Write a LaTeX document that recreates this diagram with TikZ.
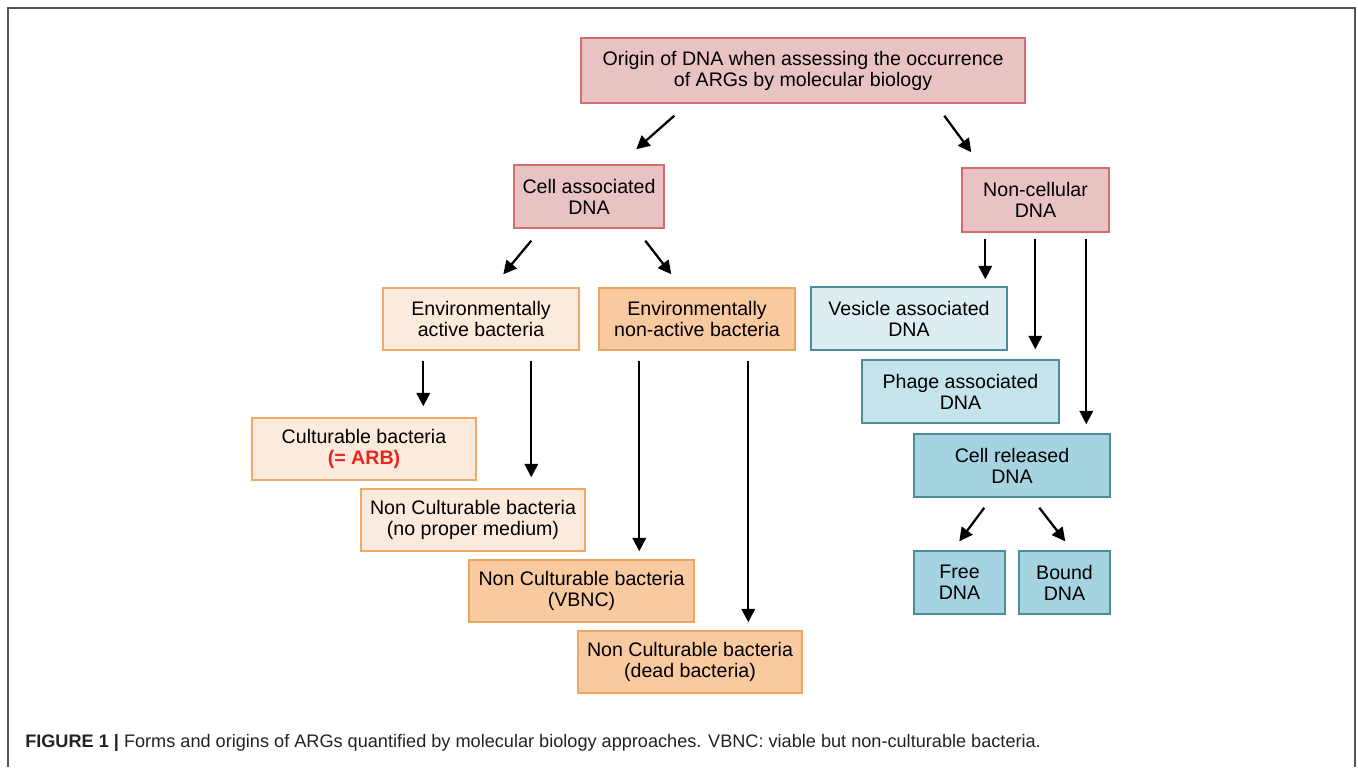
\documentclass[tikz,border=0pt]{standalone}
\usepackage{fontspec}
\setmainfont{Liberation Sans}
\usetikzlibrary{arrows.meta,calc}
\definecolor{pinkF}{HTML}{E9C3C4}
\definecolor{pinkD}{HTML}{D46E6E}
\definecolor{lorF}{HTML}{FCEBDD}
\definecolor{lorD}{HTML}{F3A869}
\definecolor{orF}{HTML}{F9C9A0}
\definecolor{orD}{HTML}{F0A35E}
\definecolor{lblF}{HTML}{DDEEF3}
\definecolor{mblF}{HTML}{C4E3EB}
\definecolor{dblF}{HTML}{A5D3E0}
\definecolor{blD}{HTML}{4D8C9C}
\definecolor{arbred}{HTML}{E8251F}
\definecolor{framegray}{HTML}{555555}
\definecolor{captext}{HTML}{222222}
\newcommand\mybox[7]{\node[#6, minimum width={(#4-#2)*0.75pt}, minimum height={(#5-#3)*0.75pt}] (#1) at ({(#2+#4)/2},{(#3+#5)/2}) {#7};}
\begin{document}
\begin{tikzpicture}[x=0.75pt,y=-0.75pt,
  base/.style={draw, line width=1.1pt, inner sep=0pt, align=center, font=\fontsize{14.7}{15.75}\selectfont, text=black},
  pinkbox/.style={base, fill=pinkF, draw=pinkD},
  lorbox/.style={base, fill=lorF, draw=lorD},
  orbox/.style={base, fill=orF, draw=orD},
  lblbox/.style={base, fill=lblF, draw=blD},
  mblbox/.style={base, fill=mblF, draw=blD},
  dblbox/.style={base, fill=dblF, draw=blD},
  arr/.style={line width=1.7pt, -{Triangle[length=10pt,width=10pt]}},
  frame/.style={draw=framegray, line width=1.5pt}
]
\useasboundingbox (0,0) rectangle (1358,767);
\draw[frame] (8,767) -- (8,8) -- (1355,8) -- (1355,767);

\mybox{top}{581}{38}{1025}{103}{pinkbox}{Origin of DNA when assessing the occurrence\\of ARGs by molecular biology}
\mybox{cell}{514}{165}{664}{228}{pinkbox}{Cell associated\\DNA}
\mybox{noncell}{962}{168}{1109}{232}{pinkbox}{Non-cellular\\DNA}
\mybox{active}{383}{288}{579}{350}{lorbox}{Environmentally\\active bacteria}
\mybox{nonactive}{599}{288}{795}{350}{orbox}{Environmentally\\non-active bacteria}
\mybox{cult}{252}{418}{476}{480}{lorbox}{Culturable bacteria\\{\color{arbred}\bfseries(= ARB)}}
\mybox{ncmed}{361}{489}{585}{551}{lorbox}{Non Culturable bacteria\\(no proper medium)}
\mybox{vbnc}{469}{560}{694}{622}{orbox}{Non Culturable bacteria\\(VBNC)}
\mybox{dead}{578}{631}{802}{693}{orbox}{Non Culturable bacteria\\(dead bacteria)}
\mybox{vesicle}{811}{287}{1007}{350}{lblbox}{Vesicle associated\\DNA}
\mybox{phage}{862}{360}{1059}{423}{mblbox}{Phage associated\\DNA}
\mybox{released}{914}{434}{1110}{497}{dblbox}{Cell released\\DNA}
\mybox{free}{914}{551}{1005}{614}{dblbox}{Free\\DNA}
\mybox{bound}{1019}{551}{1110}{614}{dblbox}{Bound\\DNA}

% arrows
\draw[arr] ($(top.south west)+(94,12)$) -- ($(cell.north west)+(123,-15)$);
\draw[arr] ($(top.south west)+(364,12)$) -- ($(noncell.north west)+(10,-15)$);
\draw[arr] ($(cell.south west)+(18,12)$) -- ($(active.north west)+(121,-13)$);
\draw[arr] ($(cell.south west)+(132,12)$) -- ($(nonactive.north west)+(73,-13)$);
\draw[arr] ($(active.south west)+(41,10)$) -- ($(cult.north west)+(172,-11)$);
\draw[arr] ($(active.south west)+(149,10)$) -- ($(ncmed.north west)+(171,-11)$);
\draw[arr] ($(nonactive.south west)+(41,10)$) -- ($(vbnc.north west)+(171,-8)$);
\draw[arr] ($(nonactive.south west)+(150,10)$) -- ($(dead.north west)+(171,-8)$);
\draw[arr] ($(noncell.south west)+(24,6)$) -- ($(vesicle.north west)+(175,-7)$);
\draw[arr] ($(noncell.south west)+(74,6)$) -- ($(phage.north west)+(174,-10)$);
\draw[arr] ($(noncell.south west)+(125,6)$) -- ($(released.north west)+(173,-9)$);
\draw[arr] ($(released.south west)+(71,10)$) -- ($(free.north west)+(46,-9)$);
\draw[arr] ($(released.south west)+(126,10)$) -- ($(bound.north west)+(47,-9)$);

\node[anchor=base west, inner sep=0pt, text=captext, font=\fontsize{13.6}{15}\selectfont] (cap) at (25,747)
  {\textbf{FIGURE 1 |} Forms and origins of ARGs quantified by molecular biology approaches. VBNC: viable but non-culturable bacteria.};
\end{tikzpicture}
\end{document}
